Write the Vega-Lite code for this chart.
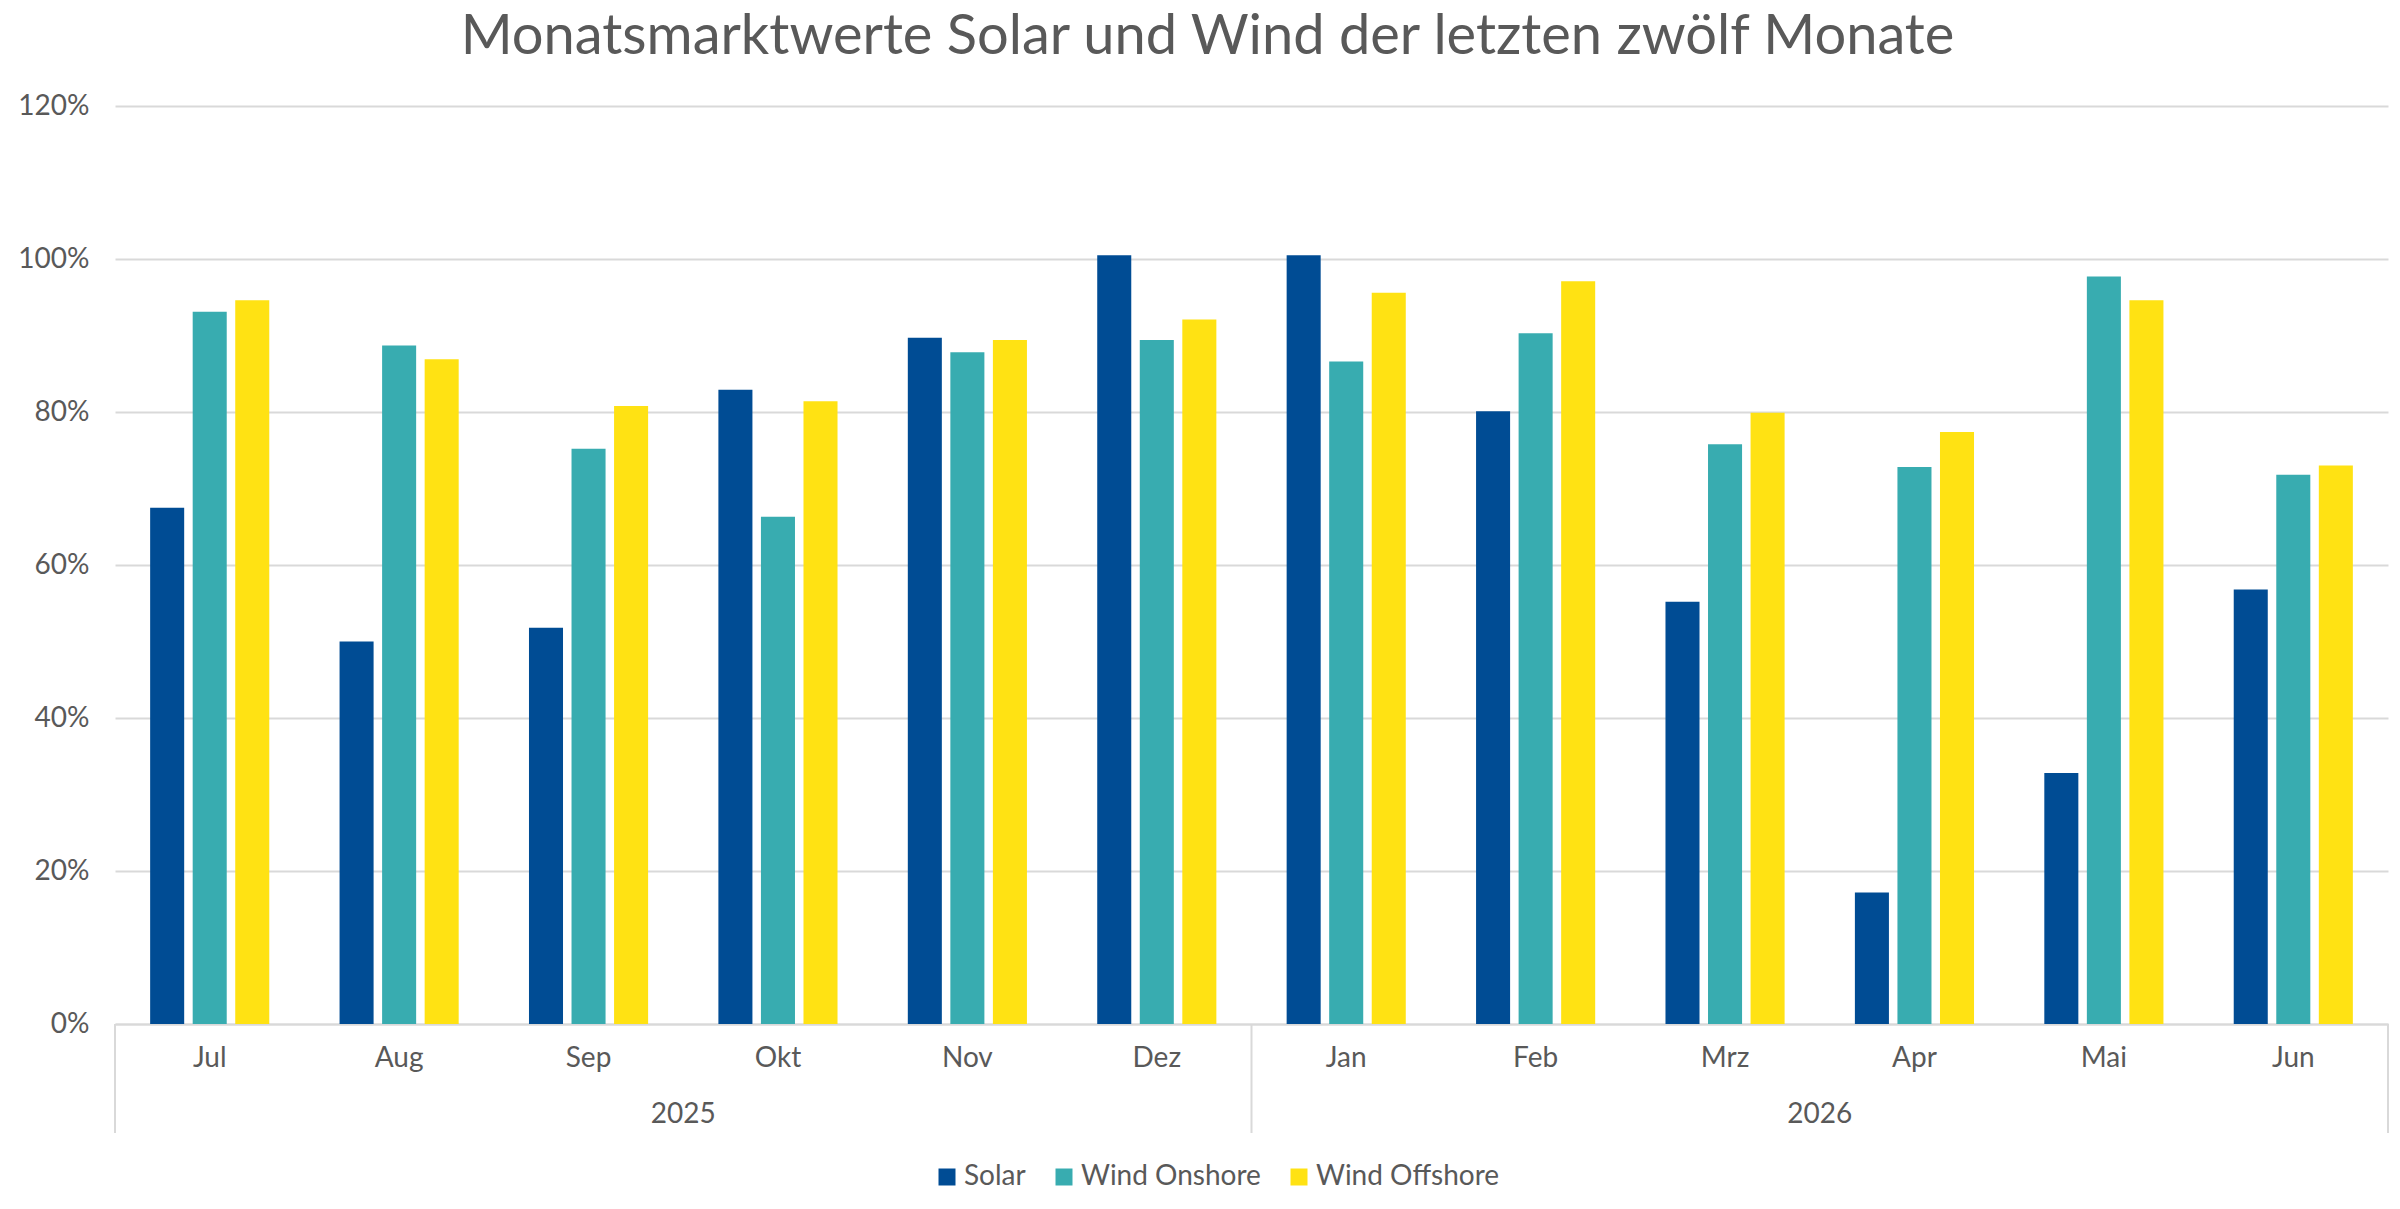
{
  "$schema": "https://vega.github.io/schema/vega-lite/v6.json",
  "autosize": {"type": "none"},
  "padding": {"left": 115, "top": 106, "right": 12, "bottom": 185},
  "width": 2273,
  "height": 918,
  "background": "white",
  "title": {
    "text": "Monatsmarktwerte Solar und Wind der letzten zwölf Monate",
    "font": "Lato",
    "fontSize": 56,
    "fontWeight": "normal",
    "color": "#595959",
    "anchor": "middle",
    "baseline": "bottom",
    "offset": -30,
    "dx": -44
  },
  "datasets": {
    "werte": [
      {"monat": "Jul", "serie": "Solar", "wert": 0.675},
      {"monat": "Jul", "serie": "Wind Onshore", "wert": 0.931},
      {"monat": "Jul", "serie": "Wind Offshore", "wert": 0.946},
      {"monat": "Aug", "serie": "Solar", "wert": 0.500},
      {"monat": "Aug", "serie": "Wind Onshore", "wert": 0.887},
      {"monat": "Aug", "serie": "Wind Offshore", "wert": 0.869},
      {"monat": "Sep", "serie": "Solar", "wert": 0.518},
      {"monat": "Sep", "serie": "Wind Onshore", "wert": 0.752},
      {"monat": "Sep", "serie": "Wind Offshore", "wert": 0.808},
      {"monat": "Okt", "serie": "Solar", "wert": 0.829},
      {"monat": "Okt", "serie": "Wind Onshore", "wert": 0.663},
      {"monat": "Okt", "serie": "Wind Offshore", "wert": 0.814},
      {"monat": "Nov", "serie": "Solar", "wert": 0.897},
      {"monat": "Nov", "serie": "Wind Onshore", "wert": 0.878},
      {"monat": "Nov", "serie": "Wind Offshore", "wert": 0.894},
      {"monat": "Dez", "serie": "Solar", "wert": 1.005},
      {"monat": "Dez", "serie": "Wind Onshore", "wert": 0.894},
      {"monat": "Dez", "serie": "Wind Offshore", "wert": 0.921},
      {"monat": "Jan", "serie": "Solar", "wert": 1.005},
      {"monat": "Jan", "serie": "Wind Onshore", "wert": 0.866},
      {"monat": "Jan", "serie": "Wind Offshore", "wert": 0.956},
      {"monat": "Feb", "serie": "Solar", "wert": 0.801},
      {"monat": "Feb", "serie": "Wind Onshore", "wert": 0.903},
      {"monat": "Feb", "serie": "Wind Offshore", "wert": 0.971},
      {"monat": "Mrz", "serie": "Solar", "wert": 0.552},
      {"monat": "Mrz", "serie": "Wind Onshore", "wert": 0.758},
      {"monat": "Mrz", "serie": "Wind Offshore", "wert": 0.799},
      {"monat": "Apr", "serie": "Solar", "wert": 0.172},
      {"monat": "Apr", "serie": "Wind Onshore", "wert": 0.728},
      {"monat": "Apr", "serie": "Wind Offshore", "wert": 0.774},
      {"monat": "Mai", "serie": "Solar", "wert": 0.328},
      {"monat": "Mai", "serie": "Wind Onshore", "wert": 0.977},
      {"monat": "Mai", "serie": "Wind Offshore", "wert": 0.946},
      {"monat": "Jun", "serie": "Solar", "wert": 0.568},
      {"monat": "Jun", "serie": "Wind Onshore", "wert": 0.718},
      {"monat": "Jun", "serie": "Wind Offshore", "wert": 0.730}
    ],
    "jahre": [
      {"monat": "Sep", "jahr": "2025"},
      {"monat": "Mrz", "jahr": "2026"}
    ],
    "grenzen_start": [
      {"monat": "Jul"},
      {"monat": "Jan"}
    ],
    "grenzen_ende": [
      {"monat": "Jun"}
    ]
  },
  "layer": [
    {
      "data": {"name": "werte"},
      "mark": {"type": "bar"},
      "encoding": {
        "x": {
          "field": "monat",
          "type": "nominal",
          "scale": {
            "domain": ["Jul", "Aug", "Sep", "Okt", "Nov", "Dez", "Jan", "Feb", "Mrz", "Apr", "Mai", "Jun"],
            "paddingInner": 0,
            "paddingOuter": 0
          },
          "axis": {
            "title": null,
            "labelAngle": 0,
            "ticks": false,
            "domain": true,
            "domainColor": "#D9D9D9",
            "domainWidth": 2,
            "labelPadding": 20,
            "labelBaseline": "top",
            "grid": false
          }
        },
        "xOffset": {
          "field": "serie",
          "type": "nominal",
          "sort": ["Solar", "Wind Onshore", "Wind Offshore"],
          "scale": {"paddingInner": 0.2, "paddingOuter": 0.826}
        },
        "y": {
          "field": "wert",
          "type": "quantitative",
          "scale": {"domain": [0, 1.2], "nice": false},
          "axis": {
            "title": null,
            "values": [0, 0.2, 0.4, 0.6, 0.8, 1.0, 1.2],
            "format": ".0%",
            "ticks": false,
            "domain": false,
            "labelPadding": 26,
            "gridColor": "#D9D9D9",
            "gridWidth": 2
          }
        },
        "color": {
          "field": "serie",
          "type": "nominal",
          "sort": ["Solar", "Wind Onshore", "Wind Offshore"],
          "scale": {
            "domain": ["Solar", "Wind Onshore", "Wind Offshore"],
            "range": ["#004C94", "#38ACB0", "#FFE213"]
          },
          "legend": {
            "title": null,
            "orient": "none",
            "legendX": 818,
            "legendY": 1057,
            "direction": "horizontal",
            "symbolType": "square",
            "symbolSize": 289,
            "symbolStrokeWidth": 0,
            "labelOffset": 3,
            "labelLimit": 400,
            "columnPadding": 24
          }
        }
      }
    },
    {
      "data": {"name": "jahre"},
      "mark": {"type": "text", "baseline": "middle", "align": "center"},
      "encoding": {
        "x": {"field": "monat", "type": "nominal", "bandPosition": 1},
        "y": {"datum": -0.119},
        "text": {"field": "jahr"}
      }
    },
    {
      "data": {"name": "grenzen_start"},
      "mark": {"type": "rule", "color": "#D9D9D9", "strokeWidth": 2},
      "encoding": {
        "x": {"field": "monat", "type": "nominal", "bandPosition": 0},
        "y": {"datum": 0},
        "y2": {"datum": -0.1425}
      }
    },
    {
      "data": {"name": "grenzen_ende"},
      "mark": {"type": "rule", "color": "#D9D9D9", "strokeWidth": 2},
      "encoding": {
        "x": {"field": "monat", "type": "nominal", "bandPosition": 1},
        "y": {"datum": 0},
        "y2": {"datum": -0.1425}
      }
    }
  ],
  "config": {
    "view": {"stroke": null},
    "font": "Lato",
    "axis": {
      "labelFont": "Lato",
      "labelFontSize": 28,
      "labelColor": "#595959"
    },
    "text": {"font": "Lato", "fontSize": 28, "color": "#595959"},
    "legend": {
      "labelFont": "Lato",
      "labelFontSize": 28,
      "labelColor": "#595959"
    }
  }
}
